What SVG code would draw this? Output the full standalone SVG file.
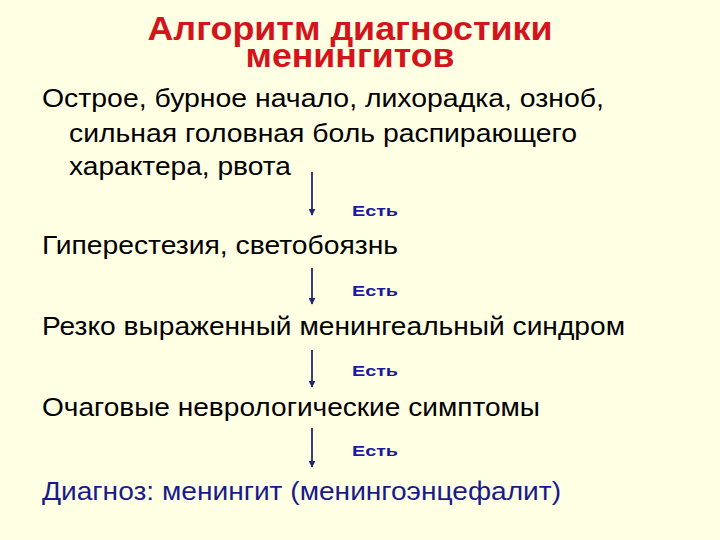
<svg xmlns="http://www.w3.org/2000/svg" width="720" height="540" viewBox="0 0 720 540">
<style>
.t{font-family:"Liberation Sans",Arial,sans-serif;font-weight:bold;font-size:33px;fill:#d4141c;text-anchor:middle}
.b{font-family:"Liberation Sans",Arial,sans-serif;font-size:25.5px;fill:#000}
.d{fill:#1a1a8c}
.e{font-family:"Liberation Sans",Arial,sans-serif;font-weight:bold;font-size:15px;fill:#1a1a9c}
.a{stroke:#1f2a6e;stroke-width:1.8;fill:none}
</style>
<defs>
<marker id="ah" viewBox="0 0 10 10" refX="9" refY="5" markerWidth="7" markerHeight="7" markerUnits="userSpaceOnUse" orient="auto">
<path d="M0,0 L10,5 L0,10 z" fill="#1f2a6e"/>
</marker>
</defs>
<rect width="720" height="540" fill="#ffffe3"/>
<g id="title">
<text class="t" x="350" y="40" textLength="405" lengthAdjust="spacingAndGlyphs">Алгоритм диагностики</text>
<text class="t" x="350" y="67" textLength="209" lengthAdjust="spacingAndGlyphs">менингитов</text>
</g>
<g id="n1">
<text class="b" x="42" y="107" textLength="562" lengthAdjust="spacingAndGlyphs">Острое, бурное начало, лихорадка, озноб,</text>
<text class="b" x="69" y="142" textLength="508" lengthAdjust="spacingAndGlyphs">сильная головная боль распирающего</text>
<text class="b" x="69" y="175" textLength="222" lengthAdjust="spacingAndGlyphs">характера, рвота</text>
</g>
<g id="n2"><text class="b" x="42" y="254" textLength="356" lengthAdjust="spacingAndGlyphs">Гиперестезия, светобоязнь</text></g>
<g id="n3"><text class="b" x="42" y="335" textLength="583" lengthAdjust="spacingAndGlyphs">Резко выраженный менингеальный синдром</text></g>
<g id="n4"><text class="b" x="42" y="416" textLength="498" lengthAdjust="spacingAndGlyphs">Очаговые неврологические симптомы</text></g>
<g id="n5"><text class="b d" x="42" y="500" textLength="519" lengthAdjust="spacingAndGlyphs">Диагноз: менингит (менингоэнцефалит)</text></g>
<g id="connectors">
<line class="a" x1="312" y1="172" x2="312" y2="215" marker-end="url(#ah)"/>
<line class="a" x1="312" y1="268" x2="312" y2="304" marker-end="url(#ah)"/>
<line class="a" x1="312" y1="350" x2="312" y2="387" marker-end="url(#ah)"/>
<line class="a" x1="312" y1="428" x2="312" y2="467" marker-end="url(#ah)"/>
<text class="e" x="352" y="216" textLength="46" lengthAdjust="spacingAndGlyphs">Есть</text>
<text class="e" x="352" y="296" textLength="46" lengthAdjust="spacingAndGlyphs">Есть</text>
<text class="e" x="352" y="376" textLength="46" lengthAdjust="spacingAndGlyphs">Есть</text>
<text class="e" x="352" y="456" textLength="46" lengthAdjust="spacingAndGlyphs">Есть</text>
</g>
</svg>
